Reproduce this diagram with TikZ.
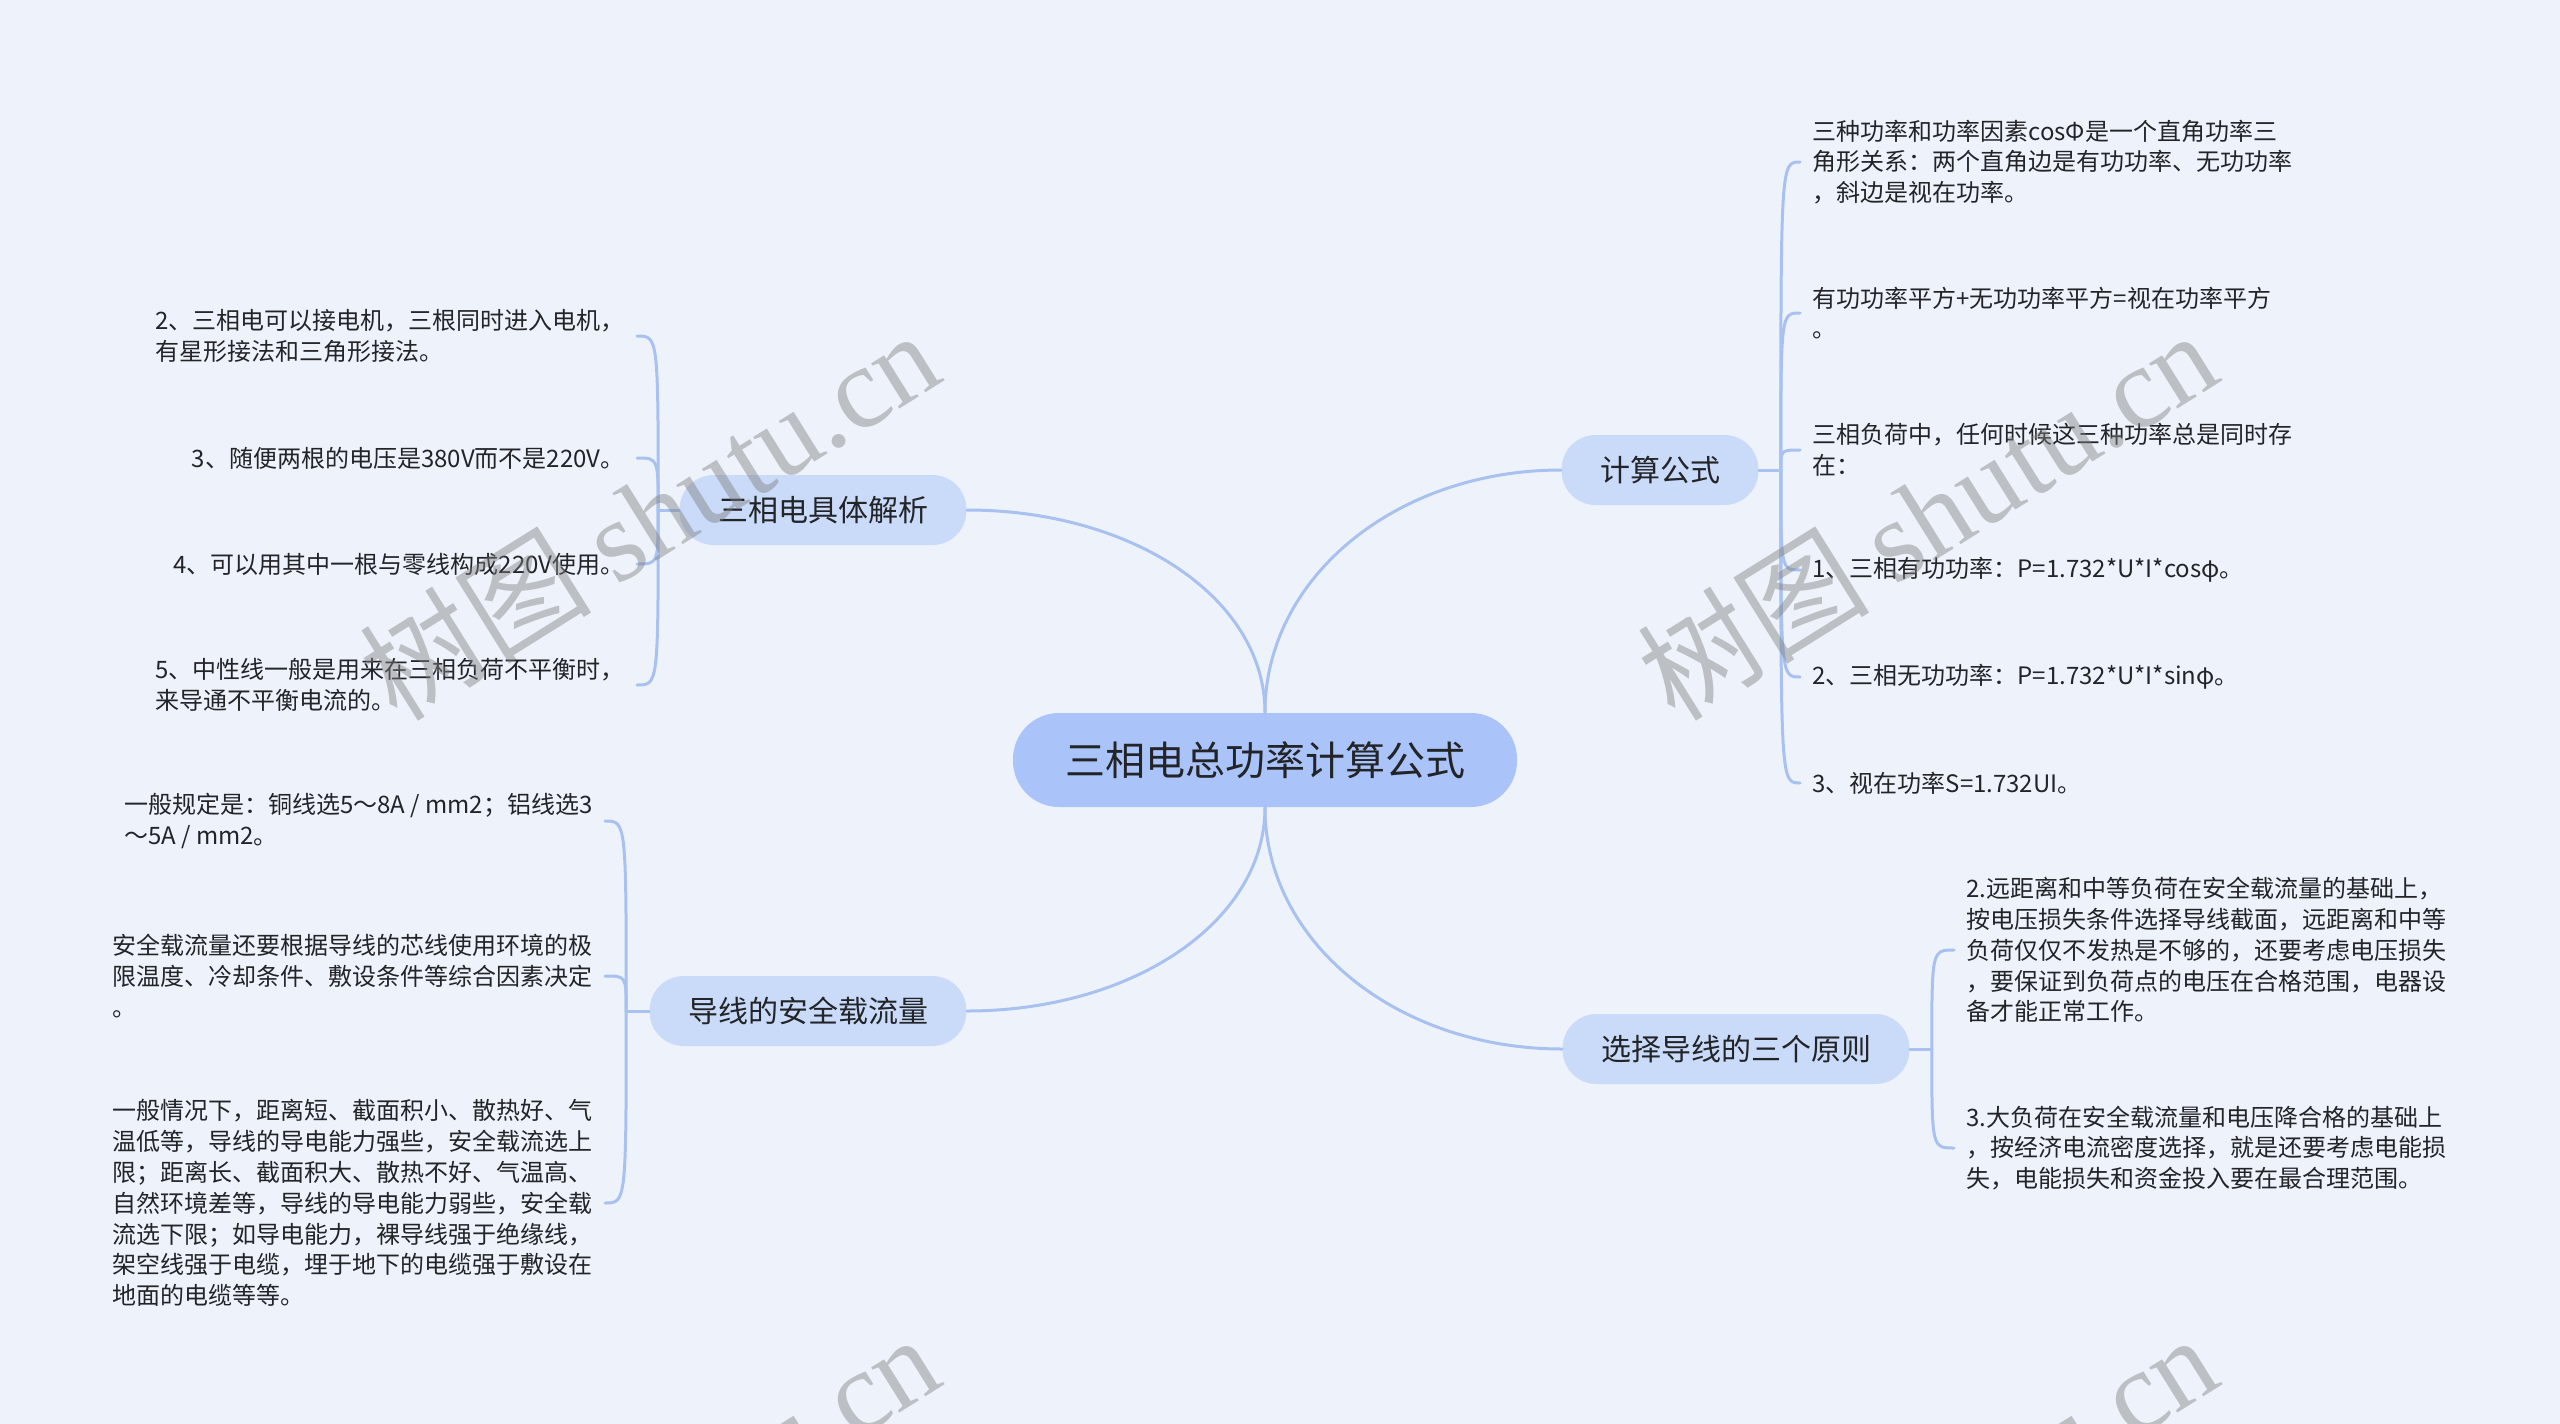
\documentclass[tikz,border=0pt]{standalone}
\usepackage{fontspec}
\setmainfont{Noto Sans CJK SC}
\newfontfamily\wmfont{Liberation Serif}
\definecolor{bgcol}{RGB}{238,243,251}
\definecolor{rootcol}{RGB}{170,196,250}
\definecolor{subcol}{RGB}{202,218,249}
\definecolor{linkcol}{RGB}{168,193,240}
\definecolor{txtcol}{RGB}{34,36,40}
\begin{document}
\begin{tikzpicture}[x=0.5pt,y=-0.5pt,line cap=round,line join=round,
	root/.style={fill=rootcol,rounded corners=23pt,minimum width=252pt,minimum height=47pt,text=txtcol,font=\fontsize{20pt}{24pt}\selectfont},
	sub/.style={fill=subcol,rounded corners=17pt,minimum height=35pt,inner xsep=19.2pt,text=txtcol,font=\fontsize{15pt}{18pt}\selectfont},
	leaf/.style={align=left,inner xsep=6pt,inner ysep=0pt,text=txtcol,font=\fontsize{12pt}{15.4pt}\selectfont},
	link/.style={draw=linkcol,line width=1.5pt},
	wmark/.style={text=gray,opacity=.45,rotate=32,font=\fontsize{58pt}{60pt}\selectfont}]
	\fill[bgcol] (0,0) rectangle (2560,1424);
	\useasboundingbox (0,0) rectangle (2560,1424);
	\clip (0,0) rectangle (2560,1424);
	\node[root] (root) at (1265,760) {三相电总功率计算公式};
	\node[sub] (b1) at (823,510) {三相电具体解析};
	\node[sub] (b2) at (808,1011) {导线的安全载流量};
	\node[sub] (b3) at (1660,470) {计算公式};
	\node[sub] (b4) at (1736,1049) {选择导线的三个原则};
	\draw[link] (root.north) .. controls +(0,-115) and +(165,0) .. (b1.east);
	\draw[link] (root.south) .. controls +(0,115) and +(165,0) .. (b2.east);
	\draw[link] (root.north) .. controls +(0,-135) and +(-165,0) .. (b3.west);
	\draw[link] (root.south) .. controls +(0,135) and +(-165,0) .. (b4.west);
	\draw[link] (b1.west) -- ++(-21,0) coordinate (j1);
	\draw[link] (b2.west) -- ++(-23,0) coordinate (j2);
	\draw[link] (b3.east) -- ++(22,0) coordinate (j3);
	\draw[link] (b4.east) -- ++(22,0) coordinate (j4);
	\foreach \n/\y/\t in {
		a1/336/{2、三相电可以接电机，三根同时进入电机，\\有星形接法和三角形接法。},
		a2/458/{3、随便两根的电压是380V而不是220V。},
		a3/564/{4、可以用其中一根与零线构成220V使用。},
		a4/685/{5、中性线一般是用来在三相负荷不平衡时，\\来导通不平衡电流的。}}
	{\node[leaf,anchor=east] (\n) at (637,\y) {\t};
		\draw[link] (j1) .. controls (j1 |- \n.east) .. (\n.east);}
	\foreach \n/\y/\t in {
		c1/821/{一般规定是：铜线选5～8A / mm2；铝线选3\\～5A / mm2。},
		c2/976/{安全载流量还要根据导线的芯线使用环境的极\\限温度、冷却条件、敷设条件等综合因素决定\\。},
		c3/1203/{一般情况下，距离短、截面积小、散热好、气\\温低等，导线的导电能力强些，安全载流选上\\限；距离长、截面积大、散热不好、气温高、\\自然环境差等，导线的导电能力弱些，安全载\\流选下限；如导电能力，裸导线强于绝缘线，\\架空线强于电缆，埋于地下的电缆强于敷设在\\地面的电缆等等。}}
	{\node[leaf,anchor=east] (\n) at (605,\y) {\t};
		\draw[link] (j2) .. controls (j2 |- \n.east) .. (\n.east);}
	\foreach \n/\y/\t in {
		f1/162/{三种功率和功率因素cosΦ是一个直角功率三\\角形关系：两个直角边是有功功率、无功功率\\，斜边是视在功率。},
		f2/313/{有功功率平方+无功功率平方=视在功率平方\\。},
		f3/450/{三相负荷中，任何时候这三种功率总是同时存\\在：},
		f4/570/{1、三相有功功率：P=1.732*U*I*cosφ。},
		f5/677/{2、三相无功功率：P=1.732*U*I*sinφ。},
		f6/783/{3、视在功率S=1.732UI。}}
	{\node[leaf,anchor=west] (\n) at (1800,\y) {\t};
		\draw[link] (j3) .. controls (j3 |- \n.west) .. (\n.west);}
	\foreach \n/\y/\t in {
		p1/950/{2.远距离和中等负荷在安全载流量的基础上，\\按电压损失条件选择导线截面，远距离和中等\\负荷仅仅不发热是不够的，还要考虑电压损失\\，要保证到负荷点的电压在合格范围，电器设\\备才能正常工作。},
		p2/1148/{3.大负荷在安全载流量和电压降合格的基础上\\，按经济电流密度选择，就是还要考虑电能损\\失，电能损失和资金投入要在最合理范围。}}
	{\node[leaf,anchor=west] (\n) at (1954,\y) {\t};
		\draw[link] (j4) .. controls (j4 |- \n.west) .. (\n.west);}
	\foreach \u/\v in {649/514,1927/514,649/1518,1927/1518}
		\node[wmark] at (\u,\v) {树图 {\wmfont shutu.cn}};
\end{tikzpicture}
\end{document}
